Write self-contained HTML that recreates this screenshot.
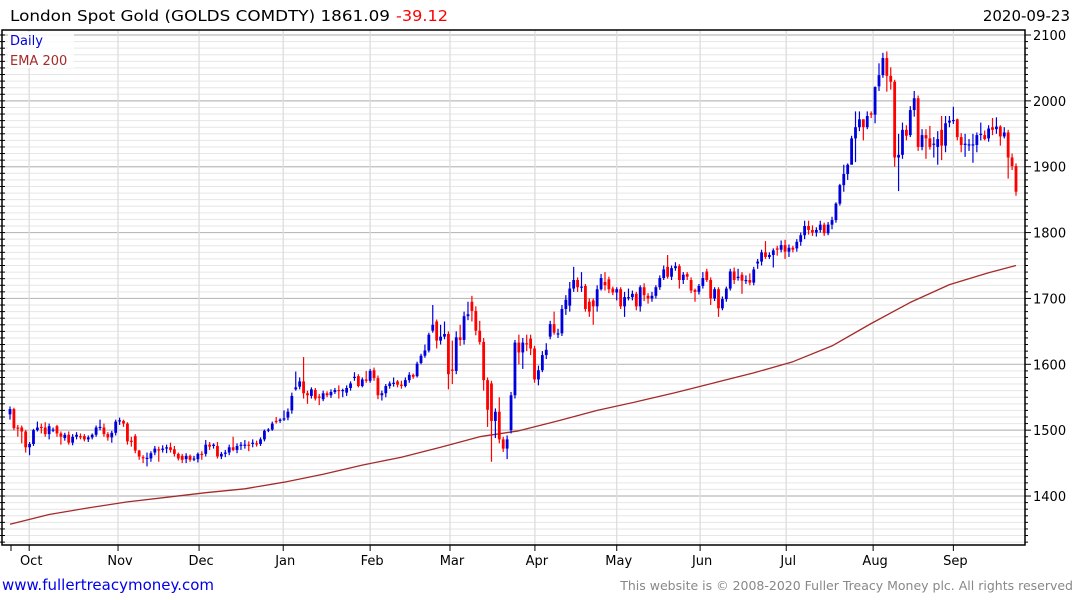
<!DOCTYPE html>
<html><head><meta charset="utf-8">
<style>
html,body{margin:0;padding:0;background:#fff;}
svg{display:block;font-family:"DejaVu Sans","Liberation Sans",sans-serif;}
</style></head>
<body>
<svg id="chart" width="1075" height="600" viewBox="0 0 1075 600" xmlns="http://www.w3.org/2000/svg">
<text x="10" y="21" font-size="15.5" fill="#000" textLength="380" lengthAdjust="spacingAndGlyphs">London Spot Gold (GOLDS COMDTY) 1861.09</text>
<text x="396" y="21" font-size="15.5" fill="#f00" textLength="52" lengthAdjust="spacingAndGlyphs">-39.12</text>
<text x="1070" y="21" font-size="15" fill="#000" text-anchor="end">2020-09-23</text>
<g id="grid"></g>
<g id="ema"></g>
<g id="candles"></g>
<g id="axes"></g>
<rect x="8" y="32" width="66" height="36" fill="#fff" opacity="0.85"/>
<text x="10" y="45" font-size="13" fill="#0000dd">Daily</text>
<text x="10" y="65" font-size="13" fill="#a52a2a">EMA 200</text>
<text x="2" y="590" font-size="15" fill="#0000ee">www.fullertreacymoney.com</text>
<text x="1073" y="590" font-size="12.5" fill="#888" text-anchor="end">This website is © 2008-2020 Fuller Treacy Money plc. All rights reserved</text>
</svg>
<script>
const opens = [
1524,1532,1504,1504,1498,1474,1479,1500,1505,1504,
1494,1500,1506,1495,1488,1493,1481,1490,1491,1491,
1486,1489,1493,1504,1504,1494,1489,1496,1514,1514,
1510,1484,1491,1469,1459,1457,1457,1466,1471,1470,
1472,1474,1471,1464,1461,1456,1461,1456,1456,1464,
1464,1478,1476,1476,1460,1464,1466,1474,1470,1477,
1477,1478,1479,1480,1479,1486,1500,1501,1514,1514,
1516,1519,
1530,1562,1566,1574,1556,1552,1561,1551,1547,1556,
1553,1558,1561,1560,1557,1564,1580,1582,1567,1577,
1575,1591,1579,1553,1556,1567,1571,1574,1569,1567,
1576,1584,1582,1602,1613,1621,1651,1665,1636,1642,
1646,1592,1590,1641,1637,1673,1695,1681,1651,1634,
1576,1571,1514,1528,1486,1472,1500,1553,1633,1618,
1632,1639,1624,1577,1591,1614,
1642,1661,1647,1647,1684,1689,1715,1728,1718,1719,
1695,1697,1688,1714,1725,1729,1715,1709,1714,1688,
1702,1702,1707,1688,1717,1704,1700,1704,1717,1731,
1748,1733,1746,1749,1728,1737,1728,1713,1710,1719,
1741,1728,1700,1714,1685,1699,1715,1741,1731,1736,
1728,1728,1724,1753,1756,1770,1763,1766,1776,1774,
1781,1771,1777,1776,1786,1796,1810,1804,1800,1804,
1812,1799,1812,1819,1844,1872,1889,1903,1943,1960,
1972,1960,1981,1979,2022,2039,2065,2038,2029,1914,
1918,1956,1948,1986,2004,1930,1948,1943,1935,1930,
1956,1932,1967,1970,1972,1945,1933,1934,1933,1933,
1950,1948,1943,1960,1957,1961,1946,1952,1914,1901
];
const closes = [
1532,1503,1503,1498,1474,1479,1500,1504,1504,1494,
1506,1501,1495,1490,1493,1481,1490,1493,1489,1486,
1489,1493,1504,1505,1494,1489,1496,1513,1515,1510,
1483,1482,1469,1460,1458,1458,1465,1472,1469,1472,
1474,1470,1464,1457,1455,1461,1455,1457,1464,1463,
1478,1475,1478,1460,1464,1466,1474,1470,1476,1478,
1478,1477,1481,1479,1486,1499,1501,1510,1513,1516,
1518,1528,
1552,1565,1574,1556,1553,1562,1548,1549,1556,1553,
1558,1561,1560,1561,1564,1571,1581,1567,1577,1575,
1590,1579,1553,1556,1567,1571,1572,1569,1568,1576,
1584,1581,1601,1613,1621,1645,1660,1636,1642,1646,
1585,1591,1641,1637,1673,1676,1681,1651,1634,1576,
1531,1514,1528,1486,1472,1486,1553,1633,1618,1633,
1631,1624,1577,1591,1614,1622,
1661,1648,1647,1684,1698,1715,1728,1717,1718,1684,
1680,1688,1714,1731,1720,1714,1709,1714,1688,1702,
1702,1707,1688,1717,1705,1700,1704,1717,1731,1744,
1733,1746,1749,1728,1736,1733,1712,1710,1719,1731,
1728,1700,1714,1685,1699,1715,1741,1728,1733,1727,
1728,1724,1744,1756,1770,1763,1766,1773,1774,1781,
1771,1777,1774,1786,1796,1810,1804,1800,1804,1812,
1799,1812,1819,1844,1872,1889,1903,1943,1960,1972,
1960,1977,1979,2021,2039,2065,2038,2029,1914,1918,
1956,1947,1986,2004,1930,1948,1943,1930,1935,1942,
1932,1966,1970,1971,1945,1933,1935,1934,1934,1948,
1950,1942,1958,1956,1961,1946,1952,1914,1901,1862
];
const highs = [
1536,1534,1508,1507,1500,1482,1502,1513,1510,1512,
1510,1504,1508,1498,1496,1498,1494,1497,1495,1494,
1492,1495,1507,1516,1510,1497,1499,1516,1519,1516,
1512,1490,1494,1470,1462,1466,1468,1476,1475,1477,
1478,1481,1476,1466,1464,1465,1463,1461,1466,1468,
1485,1482,1480,1482,1467,1470,1478,1490,1480,1482,
1485,1483,1486,1484,1489,1501,1503,1513,1520,1518,
1530,1533,
1557,1589,1580,1611,1560,1565,1564,1555,1560,1559,
1562,1564,1568,1563,1568,1574,1588,1585,1580,1590,
1593,1595,1583,1560,1570,1574,1580,1576,1575,1580,
1588,1586,1604,1616,1630,1648,1690,1668,1660,1665,
1650,1636,1650,1660,1680,1695,1704,1688,1666,1640,
1580,1575,1533,1550,1490,1492,1558,1637,1645,1640,
1645,1645,1628,1598,1620,1632,
1666,1680,1654,1690,1705,1725,1748,1732,1740,1722,
1700,1700,1720,1737,1740,1733,1718,1717,1717,1710,
1715,1712,1710,1720,1723,1708,1710,1720,1735,1750,
1766,1750,1755,1752,1740,1740,1732,1715,1722,1740,
1745,1732,1717,1717,1703,1718,1745,1747,1745,1740,
1735,1738,1748,1760,1774,1787,1770,1776,1780,1788,
1789,1782,1780,1790,1800,1818,1818,1811,1808,1818,
1815,1816,1824,1846,1874,1903,1905,1947,1984,1984,
1972,1984,1984,2022,2057,2073,2075,2051,2032,1950,
1967,1963,1992,2015,2008,1957,1957,1962,1945,1954,
1977,1977,1977,1991,1973,1951,1950,1942,1950,1952,
1967,1955,1963,1974,1975,1963,1960,1956,1920,1905
];
const lows = [
1516,1500,1490,1480,1466,1462,1476,1498,1495,1490,
1486,1497,1490,1478,1484,1478,1477,1486,1486,1483,
1482,1486,1490,1500,1490,1484,1481,1492,1508,1505,
1478,1475,1465,1455,1450,1445,1452,1462,1452,1466,
1465,1466,1460,1454,1450,1450,1452,1453,1451,1455,
1460,1470,1472,1457,1456,1459,1462,1468,1465,1470,
1472,1468,1474,1475,1476,1483,1497,1499,1510,1511,
1514,1515,
1525,1560,1562,1548,1540,1548,1545,1538,1544,1550,
1549,1555,1548,1550,1552,1560,1575,1565,1565,1572,
1572,1575,1547,1545,1550,1563,1566,1565,1563,1565,
1572,1578,1580,1600,1610,1618,1648,1624,1630,1638,
1562,1570,1585,1628,1630,1667,1665,1644,1630,1560,
1505,1452,1488,1480,1467,1456,1495,1548,1600,1593,
1620,1614,1572,1568,1588,1608,
1638,1645,1640,1643,1675,1680,1710,1710,1710,1680,
1672,1660,1680,1712,1712,1708,1705,1697,1684,1672,
1697,1697,1682,1680,1696,1692,1695,1700,1713,1728,
1730,1728,1742,1715,1722,1728,1708,1695,1706,1715,
1725,1690,1696,1672,1682,1695,1712,1722,1727,1707,
1722,1720,1720,1745,1750,1760,1760,1747,1765,1770,
1760,1763,1770,1771,1780,1790,1797,1795,1794,1800,
1795,1796,1805,1815,1841,1862,1880,1908,1907,1954,
1940,1957,1974,1966,2015,2035,2014,2017,1900,1863,
1912,1940,1945,1976,1924,1925,1912,1926,1914,1903,
1910,1922,1960,1965,1940,1922,1915,1924,1906,1922,
1940,1940,1938,1948,1950,1932,1943,1882,1895,1856
];
const emaValues = [1357,1372,1382,1391,1398,1405,1411,1421,1433,1447,1459,1474,1490,1499,1514,1530,1543,1557,1572,1587,1604,1628,1662,1694,1721,1739,1750];
const emaStep = 10;
const monthLabels = ["Oct","Nov","Dec","Jan","Feb","Mar","Apr","May","Jun","Jul","Aug","Sep"];
const monthIdx = [4.9,27.6,48.3,69.8,92,112.4,134.1,155,176.3,198.3,220.5,241];
const yTicks = [1400,1500,1600,1700,1800,1900,2000,2100];

const NS="http://www.w3.org/2000/svg";
const X0=10, X1=1016, PL=2, PR=1025, PT=30, PB=545;
const N=closes.length;
function xs(i){return X0+i*(X1-X0)/(N-1);}
function ys(v){return 35+(2100-v)*0.6586;}
function mk(tag,attrs,parent){const e=document.createElementNS(NS,tag);for(const k in attrs)e.setAttribute(k,attrs[k]);parent.appendChild(e);return e;}
const grid=document.getElementById('grid');
const axes=document.getElementById('axes');
const cg=document.getElementById('candles');
const eg=document.getElementById('ema');
for(let v=1330;v<=2100;v+=10){
  const y=ys(v); if(y<PT||y>PB) continue;
  const major=(v%100===0);
  const ln=mk('line',{x1:PL,x2:PR,y1:y,y2:y,stroke:major?'#bbbbbb':'#e6e6e6','stroke-width':major?1.2:1},grid);
  
  
  const tk=mk('line',{x1:PR,x2:PR+(major?6:3),y1:y,y2:y,stroke:'#000','stroke-width':1},axes);
  
  
  const tl=mk('line',{x1:PL-2,x2:PL+3,y1:y,y2:y,stroke:'#000','stroke-width':1},axes);
  
  
}
monthIdx.forEach((mi,k)=>{
  const x=xs(mi);
  const vl=mk('line',{x1:x,x2:x,y1:PT,y2:PB,stroke:'#dddddd','stroke-width':1.3},grid);
  
  
  const t=mk('line',{x1:x,x2:x,y1:PB,y2:PB+6,stroke:'#000'},axes);
  
  
  const lb=mk('text',{x:x+2,y:565,'font-size':13,'text-anchor':'middle',fill:'#000'},axes);
  lb.textContent=monthLabels[k];
  
  
});
const t0=mk('line',{x1:X0+1,x2:X0+1,y1:PB,y2:PB+6,stroke:'#000'},axes);


yTicks.forEach(v=>{
  const lb=mk('text',{x:1033,y:ys(v)+5,'font-size':13,fill:'#000'},axes);
  lb.textContent=v;
  
  
});
const frame=mk('path',{d:`M${PL} ${PT} H${PR} V${PB} H${PL} Z`,fill:'none',stroke:'#000','stroke-width':1.5},axes);


let pts=emaValues.map((v,k)=>xs(Math.min(k*emaStep,N-1)).toFixed(1)+','+ys(v).toFixed(1)).join(' ');
const pl=mk('polyline',{points:pts,fill:'none',stroke:'#a52a2a','stroke-width':1.3,'stroke-linejoin':'round'},eg);


const bw=2.8;
for(let i=0;i<N;i++){
  const o=opens[i],c=closes[i],h=highs[i],l=lows[i];
  const col=c>=o?'#0000dd':'#ff0000';
  const x=xs(i);
  const g=mk('g',{},cg);
  
  
  mk('line',{x1:x,x2:x,y1:ys(h),y2:ys(l),stroke:col,'stroke-width':1.2},g);
  const top=ys(Math.max(o,c)),bot=ys(Math.min(o,c));
  mk('rect',{x:x-bw/2,y:top,width:bw,height:Math.max(1.2,bot-top),fill:col},g);
}
</script>
</body></html>
